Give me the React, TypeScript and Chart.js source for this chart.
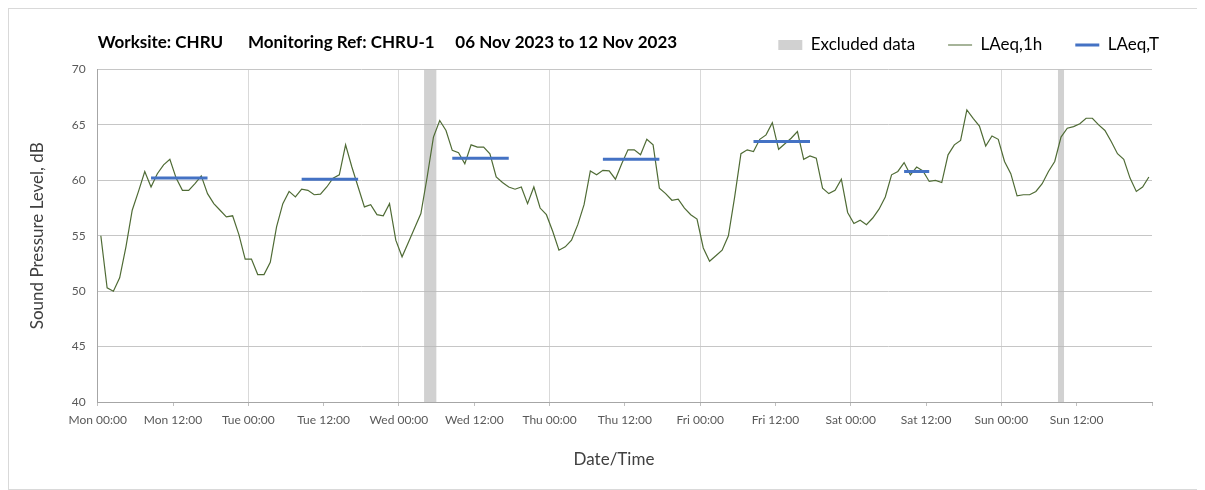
import { useEffect, useRef } from 'react';
import { Chart, registerables } from 'chart.js';

Chart.register(...registerables);

// ---- Data ----
const dayNames = ['Mon', 'Tue', 'Wed', 'Thu', 'Fri', 'Sat', 'Sun'];
const halfDayTimes = ['00:00', '12:00'];

// LAeq,1h hourly values (dB), one array per day, hours 00..23
const monLevels = [55.0, 50.3, 50.0, 51.2, 54.0, 57.3, 59.0, 60.8, 59.4, 60.6, 61.4, 61.9, 60.2, 59.1, 59.1, 59.7, 60.4, 58.8, 57.9, 57.3, 56.7, 56.8, 55.1, 52.9];
const tueLevels = [52.9, 51.5, 51.5, 52.6, 55.8, 57.9, 59.0, 58.5, 59.2, 59.1, 58.7, 58.75, 59.4, 60.2, 60.5, 63.2, 61.2, 59.4, 57.6, 57.8, 56.9, 56.8, 57.9, 54.6];
const wedLevels = [53.1, 54.4, 55.7, 57.0, 60.3, 63.9, 65.4, 64.5, 62.7, 62.5, 61.5, 63.2, 63.0, 63.0, 62.4, 60.3, 59.8, 59.4, 59.2, 59.4, 57.9, 59.4, 57.5, 56.9];
const thuLevels = [55.4, 53.7, 54.0, 54.6, 56.0, 57.8, 60.85, 60.5, 60.9, 60.85, 60.1, 61.5, 62.75, 62.75, 62.3, 63.7, 63.2, 59.3, 58.8, 58.2, 58.3, 57.5, 56.9, 56.5];
const friLevels = [53.9, 52.7, 53.2, 53.7, 55.0, 58.5, 62.4, 62.75, 62.6, 63.7, 64.1, 65.2, 62.8, 63.3, 63.8, 64.4, 61.9, 62.2, 62.0, 59.3, 58.8, 59.1, 60.1, 57.1];
const satLevels = [56.1, 56.4, 56.0, 56.6, 57.4, 58.5, 60.5, 60.8, 61.6, 60.5, 61.2, 60.85, 59.9, 60.0, 59.8, 62.3, 63.2, 63.6, 66.35, 65.6, 64.9, 63.1, 64.0, 63.7];
const sunLevels = [61.7, 60.6, 58.6, 58.7, 58.7, 59.0, 59.7, 60.8, 61.7, 63.9, 64.7, 64.85, 65.1, 65.6, 65.6, 65.0, 64.5, 63.5, 62.4, 61.9, 60.2, 59.0, 59.4, 60.3];

// LAeq,T periods (hour index from Mon 00:00, first and last hour), values
const periodStartHours = [8, 32, 56, 80, 104, 128];
const periodEndHours = [17, 41, 65, 89, 113, 132];
const periodLevels = [60.2, 60.1, 62.0, 61.9, 63.5, 60.8];

// Excluded data ranges (hours from Mon 00:00)
const excludedStartHours = [52, 153];
const excludedEndHours = [54, 154];

const yTicksMin = 40;
const yTicksMax = 70;
const totalHours = 168;

const titleText = 'Worksite: CHRU      Monitoring Ref: CHRU-1     06 Nov 2023 to 12 Nov 2023';

const GREEN = '#4f6b35';
const BLUE = '#4472c4';
const BAND = 'rgba(185,185,185,0.65)';
const FONT = 'Lato, "Open Sans", sans-serif';

const hourlyLevels = [...monLevels, ...tueLevels, ...wedLevels, ...thuLevels, ...friLevels, ...satLevels, ...sunLevels];

const titlePlugin = {
  id: 'sheetTitle',
  afterDraw(chart: any) {
    const { ctx, chartArea, legend } = chart;
    const box = legend && legend.legendHitBoxes && legend.legendHitBoxes[0];
    const y = box ? box.top + box.height / 2 - 2 : 33;
    ctx.save();
    ctx.font = `bold 17px ${FONT}`;
    ctx.fillStyle = '#000000';
    ctx.textBaseline = 'middle';
    ctx.textAlign = 'left';
    ctx.fillText(titleText, chartArea.left, y);
    ctx.restore();
  },
};

export default function App() {
  const canvasRef = useRef<HTMLCanvasElement | null>(null);

  useEffect(() => {
    if (!canvasRef.current) return;

    const hourlyData = hourlyLevels.map((v, i) => ({ x: i + 0.5, y: v }));
    const periodData: any[] = [];
    periodStartHours.forEach((s, i) => {
      periodData.push({ x: s + 0.5, y: periodLevels[i] });
      periodData.push({ x: periodEndHours[i] + 0.5, y: periodLevels[i] });
      periodData.push({ x: periodEndHours[i] + 1, y: null });
    });
    const bandSets = excludedStartHours.map((s, i) => ({
      label: 'Excluded data',
      data: [
        { x: s, y: yTicksMax },
        { x: excludedEndHours[i], y: yTicksMax },
      ],
      borderWidth: 0,
      borderColor: 'rgba(0,0,0,0)',
      backgroundColor: BAND,
      fill: 'start',
      pointRadius: 0,
      order: 3,
    }));

    const chart = new Chart(canvasRef.current, {
      type: 'line',
      data: {
        datasets: [
          {
            label: 'LAeq,T',
            data: periodData,
            borderColor: BLUE,
            backgroundColor: BLUE,
            borderWidth: 3,
            pointRadius: 0,
            spanGaps: false,
            fill: false,
            order: 0,
          },
          {
            label: 'LAeq,1h',
            data: hourlyData,
            borderColor: GREEN,
            backgroundColor: GREEN,
            borderWidth: 1.2,
            pointRadius: 0,
            fill: false,
            tension: 0,
            order: 1,
          },
          ...bandSets,
        ] as any,
      },
      options: {
        animation: false,
        responsive: true,
        maintainAspectRatio: false,
        layout: { padding: { left: 0, right: 5, top: -5.5, bottom: 0 } },
        plugins: {
          tooltip: { enabled: false },
          title: { display: false },
          legend: {
            display: true,
            position: 'top',
            align: 'end',
            labels: {
              usePointStyle: true,
              pointStyleWidth: 24,
              boxHeight: 10,
              padding: 33,
              color: '#404040',
              font: { family: FONT, size: 17 },
              generateLabels: () => [
                { text: 'Excluded data', fillStyle: BAND, strokeStyle: BAND, lineWidth: 0, pointStyle: 'rect', hidden: false, datasetIndex: 2 },
                { text: 'LAeq,1h', fillStyle: GREEN, strokeStyle: GREEN, lineWidth: 1.2, pointStyle: 'line', hidden: false, datasetIndex: 1 },
                { text: 'LAeq,T', fillStyle: BLUE, strokeStyle: BLUE, lineWidth: 3, pointStyle: 'line', hidden: false, datasetIndex: 0 },
              ],
            },
          },
        },
        scales: {
          x: {
            type: 'linear',
            min: 0,
            max: totalHours,
            afterFit: (s: any) => { s.height = 87; },
            ticks: {
              stepSize: 12,
              autoSkip: false,
              maxRotation: 0,
              minRotation: 0,
              padding: 7,
              color: '#595959',
              font: { family: FONT, size: 12 },
              callback: (value: any) => {
                const v = Number(value);
                if (v >= totalHours) return '';
                return `${dayNames[Math.floor(v / 24)]} ${halfDayTimes[(v % 24) / 12]}`;
              },
            },
            grid: {
              color: (c: any) => {
                const v = c.tick ? c.tick.value : 0;
                return v > 0 && v < totalHours && v % 24 === 0 ? '#d9d9d9' : 'rgba(0,0,0,0)';
              },
              drawTicks: true,
              tickLength: 4,
              tickColor: '#bfbfbf',
            },
            border: { display: true, color: '#a6a6a6', width: 1 },
            title: {
              display: true,
              text: 'Date/Time     ',
              color: '#404040',
              font: { family: FONT, size: 17 },
              padding: { top: 0, bottom: 19 },
            },
          },
          xTopSpacer: {
            type: 'linear',
            position: 'top',
            display: true,
            afterFit: (s: any) => { s.height = 6; },
            grid: { display: false, drawOnChartArea: false },
            ticks: { display: false },
            border: { display: false },
          },
          y: {
            type: 'linear',
            min: yTicksMin,
            max: yTicksMax,
            afterFit: (s: any) => { s.width = 88.7; },
            ticks: {
              stepSize: 5,
              padding: 12,
              color: '#595959',
              font: { family: FONT, size: 12 },
            },
            grid: { color: '#c6c6c6', drawTicks: false },
            border: { display: true, color: '#a6a6a6', width: 1 },
            title: {
              display: true,
              text: 'Sound Pressure Level, dB',
              color: '#404040',
              font: { family: FONT, size: 17 },
              padding: { top: 18.8, bottom: 0 },
            },
          },
          yRight: {
            type: 'linear',
            position: 'right',
            display: true,
            afterFit: (s: any) => { s.width = 40; },
            grid: { display: false, drawOnChartArea: false },
            ticks: { display: false },
            border: { display: false },
          },
        } as any,
      },
      plugins: [titlePlugin],
    } as any);

    return () => chart.destroy();
  }, []);

  return (
    <div
      style={{
        width: 1190,
        height: 482,
        boxSizing: 'border-box',
        border: '1px solid #d9d9d9',
        position: 'relative',
        background: '#ffffff',
      }}
    >
      <canvas ref={canvasRef} />
    </div>
  );
}
